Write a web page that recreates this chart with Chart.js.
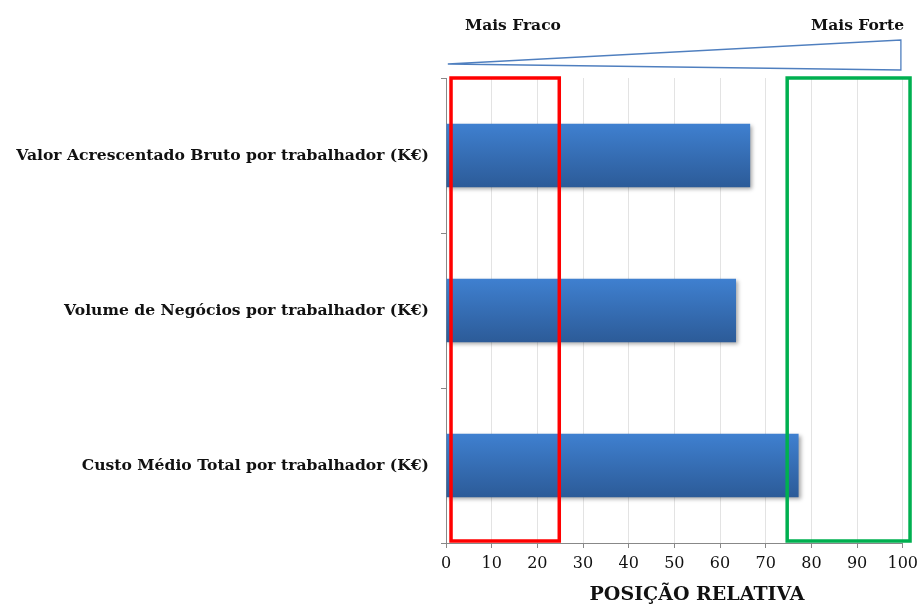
<!DOCTYPE html>
<html>
<head>
<meta charset="utf-8">
<script src="https://cdn.jsdelivr.net/npm/chart.js@4/dist/chart.umd.min.js"></script>
<style>
  html, body { margin: 0; padding: 0; background: #fff; }
  #wrap { width: 924px; height: 605px; }
</style>
</head>
<body>
<div id="wrap"><canvas id="posChart" width="924" height="605"></canvas></div>
<script>
// indicadores e posição relativa (0 = mais fraco, 100 = mais forte)
const categories = [
  'Valor Acrescentado Bruto por trabalhador (K€)',
  'Volume de Negócios por trabalhador (K€)',
  'Custo Médio Total por trabalhador (K€)'
];
const positions = [66.6, 63.5, 77.2];
const xTicks = [0, 10, 20, 30, 40, 50, 60, 70, 80, 90, 100];
const weakZone = [1.1, 24.8];
const strongZone = [74.7, 101.6];
const scaleLabels = ['Mais Fraco', 'Mais Forte'];
const axisTitle = 'POSIÇÃO RELATIVA';

const serif = '"DejaVu Serif", serif';
const catPct = 0.82, barPct = 0.5;

function barGradient(c) {
  const chart = c.chart;
  const y = chart.scales.y;
  if (!chart.chartArea || !y) return '#3870b8';
  const cy = y.getPixelForValue(c.dataIndex);
  const half = (y.bottom - y.top) / categories.length * catPct * barPct / 2;
  const g = chart.ctx.createLinearGradient(0, cy - half, 0, cy + half);
  g.addColorStop(0, '#3f80d0');
  g.addColorStop(1, '#2c5b98');
  return g;
}

const decor = {
  id: 'decor',
  beforeDatasetsDraw(chart) {
    const ctx = chart.ctx;
    ctx.save();
    ctx.shadowColor = 'rgba(0,0,0,0.35)';
    ctx.shadowBlur = 4;
    ctx.shadowOffsetX = 2;
    ctx.shadowOffsetY = 2;
  },
  afterDatasetsDraw(chart) {
    const ctx = chart.ctx;
    ctx.restore();
    const x = chart.scales.x;
    const top = chart.chartArea.top, bottom = chart.chartArea.bottom - 2;
    ctx.save();
    ctx.lineWidth = 3.5;
    ctx.strokeStyle = '#ff0000';
    ctx.strokeRect(x.getPixelForValue(weakZone[0]), top, x.getPixelForValue(weakZone[1]) - x.getPixelForValue(weakZone[0]), bottom - top);
    ctx.strokeStyle = '#00b050';
    ctx.strokeRect(x.getPixelForValue(strongZone[0]), top, x.getPixelForValue(strongZone[1]) - x.getPixelForValue(strongZone[0]), bottom - top);
    ctx.restore();
  },
  afterDraw(chart) {
    const ctx = chart.ctx;
    const x = chart.scales.x;
    const x0 = x.getPixelForValue(0.4), x1 = x.getPixelForValue(99.6);
    ctx.save();
    ctx.strokeStyle = '#4f7fbf';
    ctx.lineWidth = 1.3;
    ctx.beginPath();
    ctx.moveTo(x0, 64);
    ctx.lineTo(x1, 40);
    ctx.lineTo(x1, 70);
    ctx.closePath();
    ctx.stroke();
    ctx.fillStyle = '#111';
    ctx.font = 'bold 15.5px ' + serif;
    ctx.textBaseline = 'middle';
    ctx.textAlign = 'left';
    ctx.fillText(scaleLabels[0], 465, 26);
    ctx.textAlign = 'right';
    ctx.fillText(scaleLabels[1], 904, 26);
    // título do eixo, ligeiramente deslocado para a direita como no original
    ctx.font = 'bold 19px ' + serif;
    ctx.textAlign = 'center';
    ctx.fillText(axisTitle, 697, 595);
    ctx.restore();
  }
};

new Chart(document.getElementById('posChart'), {
  type: 'bar',
  data: {
    labels: categories,
    datasets: [{
      data: positions,
      backgroundColor: barGradient,
      borderWidth: 0,
      categoryPercentage: catPct,
      barPercentage: barPct
    }]
  },
  options: {
    indexAxis: 'y',
    responsive: false,
    animation: false,
    layout: { padding: { top: 78, right: 20, left: 0, bottom: 0 } },
    plugins: { legend: { display: false }, tooltip: { enabled: false } },
    scales: {
      x: {
        min: 0,
        max: 100,
        afterBuildTicks: s => { s.ticks = xTicks.map(v => ({ value: v })); },
        afterFit: s => { s.height = 62; },
        grid: { color: '#e3e3e3', tickColor: '#888', tickLength: 5 },
        border: { color: '#888' },
        ticks: { color: '#111', font: { family: serif, size: 16 }, padding: 6 }
      },
      y: {
        afterFit: s => { s.width = 446; },
        grid: { drawOnChartArea: false, tickColor: '#888', tickLength: 5, offset: true },
        border: { color: '#888' },
        ticks: { color: '#111', font: { family: serif, size: 15.6, weight: 'bold' }, padding: 12 }
      }
    }
  },
  plugins: [decor]
});
</script>
</body>
</html>
